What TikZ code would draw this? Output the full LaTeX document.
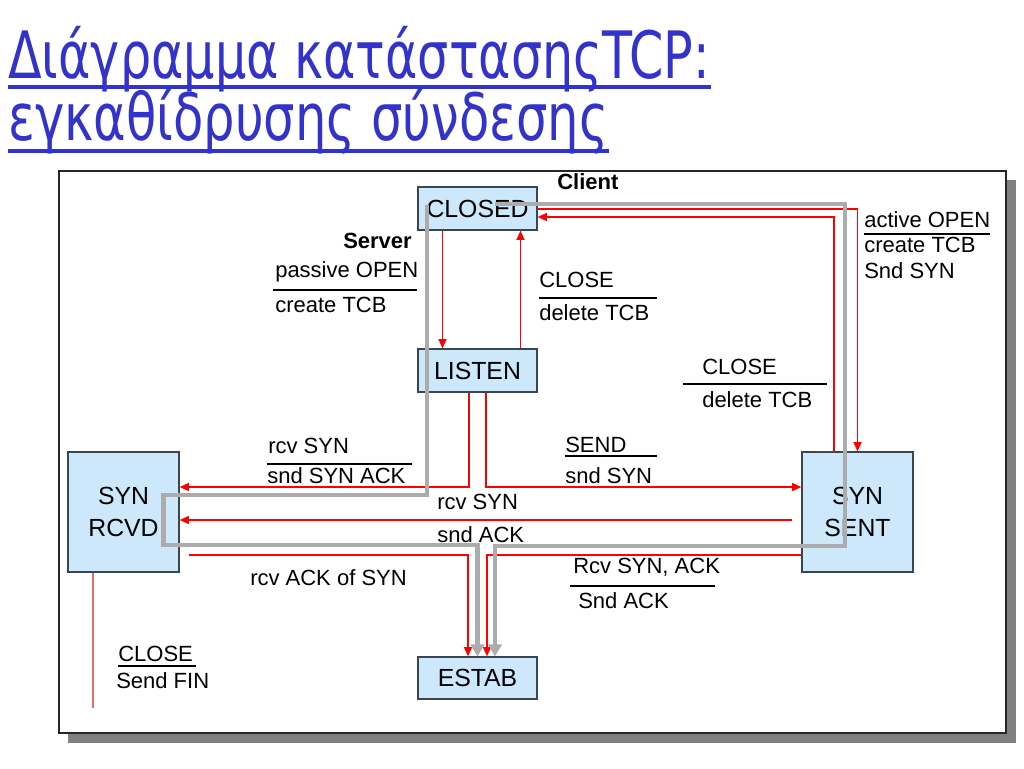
\documentclass[tikz,border=0pt]{standalone}
\usepackage{fontspec}
\setmainfont{Liberation Sans}
\newfontfamily\titlefont{DejaVu Sans}
\usetikzlibrary{arrows.meta,calc}
\definecolor{titleblue}{RGB}{51,51,204}
\definecolor{nodefill}{RGB}{204,232,250}
\definecolor{nodeborder}{RGB}{60,70,80}
\definecolor{pathgray}{RGB}{172,172,172}
\definecolor{shadowgray}{RGB}{128,128,128}
\definecolor{lightred}{RGB}{232,110,110}
\begin{document}
\begin{tikzpicture}[x=0.75pt,y=-0.75pt,
  state/.style={draw=nodeborder,line width=0.9pt,fill=nodefill,inner sep=0pt,font=\fontsize{18.6}{24}\selectfont,align=center},
  lbl/.style={anchor=base west,inner sep=0pt,font=\fontsize{16.5}{20}\selectfont},
  boldlbl/.style={lbl,font=\fontsize{16.5}{20}\selectfont\bfseries},
  bar/.style={black,line width=1pt},
  tr/.style={red,line width=1.1pt,-{Triangle[length=7pt,width=6pt]}},
  gp/.style={pathgray,line width=3.2pt,-{Triangle[length=9pt,width=10pt]}},
  titletext/.style={anchor=base west,inner sep=0pt,text=titleblue,font=\titlefont\fontsize{49}{58}\selectfont},
  uline/.style={titleblue,line width=3pt}
]
\useasboundingbox (0,0) rectangle (1024,768);
\fill[white] (0,0) rectangle (1024,768);

% title
\node[titletext] (t1) at (8,78) {\resizebox{526.5pt}{\height}{Διάγραμμα κατάστασηςTCP:}};
\node[titletext] (t2) at (8,140) {\resizebox{450pt}{\height}{εγκαθίδρυσης σύνδεσης}};
\draw[uline] ($(t1.base west)+(0,9)$) -- ($(t1.base east)+(0,9)$);
\draw[uline] ($(t2.base west)+(0,11)$) -- ($(t2.base east)+(0,11)$);

% frame with shadow
\fill[shadowgray] (68,180) rectangle (1016,743);
\draw[fill=white,line width=1.4pt,draw=black!85] (59,171) rectangle (1006,733);

% states
\node[state,minimum width={119*0.75pt},minimum height={43*0.75pt}] (closed) at (477.5,208.5) {CLOSED};
\node[state,minimum width={119*0.75pt},minimum height={43*0.75pt}] (listen) at (477.5,370.5) {LISTEN};
\node[state,minimum width={119*0.75pt},minimum height={42*0.75pt}] (estab) at (477.5,678) {ESTAB};
\node[state,minimum width={111*0.75pt},minimum height={120*0.75pt}] (synrcvd) at (123.5,512) {SYN\\RCVD};
\node[state,minimum width={111*0.75pt},minimum height={120*0.75pt}] (synsent) at (857.5,512) {SYN\\SENT};

% red transitions
\draw[tr] ($(closed.south)+(-35,0)$) -- ($(listen.north)+(-35,0)$);
\draw[tr] ($(listen.north)+(43,0)$) -- ($(closed.south)+(43,0)$);
\draw[tr] ($(listen.south)+(-8.5,0)$) |- ($(synrcvd.east)+(0,-25)$);
\draw[tr] ($(listen.south)+(8.5,0)$) |- ($(synsent.west)+(0,-25)$);
\draw[tr] ($(synsent.west)+(-9,8)$) -- ($(synrcvd.east)+(0,8)$);
\draw[tr] ($(synrcvd.east)+(9,43)$) -| ($(estab.north)+(-9.5,0)$);
\draw[tr] ($(synsent.west)+(0,43)$) -| ($(estab.north)+(9.5,0)$);
\draw[tr] ($(closed.east)+(0,0.5)$) -| (synsent.north);
\draw[tr] ($(synsent.north)+(-42.5,0)$) -- ($(synsent.north)+(-23.5,0)$) |- ($(closed.east)+(0,8.5)$);
\draw[lightred,line width=1pt] ($(synrcvd.south)+(-30.5,0)$) coordinate (finstart) -- ($(finstart)+(0,135)$) coordinate (finend);

% gray paths
\coordinate (gA) at ($(closed.center)+(-50.5,-3.5)$);
\coordinate (gB) at ($(closed.center)+(17.5,-4.5)$);
\draw[gp] (gA) |- ($(synrcvd.east)+(-16,-17)$) -- ($(synrcvd.east)+(-16,33)$) -| ($(estab.north)+(0,0)$);
\draw[gp] (gB) -| ($(synsent.center)+(-12.5,34)$) -| ($(estab.north)+(17.5,0)$);

% labels
\node[boldlbl] (client) at (557,189) {Client};
\node[boldlbl] (server) at (343,248) {Server};
\node[lbl] (po) at (275,277) {passive OPEN};
\draw[bar] (273,290) -- (417,290);
\node[lbl] (ctcb1) at (275,312) {create TCB};
\node[lbl] (cl1) at (539,287) {CLOSE};
\draw[bar] (539,298) -- (657,298);
\node[lbl] (dt1) at (539,320) {delete TCB};
\node[lbl] (ao) at (864,227) {active OPEN};
\draw[bar] (864,234) -- (990,234);
\node[lbl] (ctcb2) at (864,252) {create TCB};
\node[lbl] (ssyn) at (864,278) {Snd SYN};
\node[lbl] (cl2) at (702,374) {CLOSE};
\draw[bar] (683,384) -- (827,384);
\node[lbl] (dt2) at (702,407) {delete TCB};
\node[lbl] (rs1) at (268,453) {rcv SYN};
\draw[bar] (267,464) -- (412,464);
\node[lbl] (ssa) at (267,483) {snd SYN ACK};
\node[lbl] (rs2) at (437,509) {rcv SYN};
\node[lbl] (sack) at (437,542) {snd ACK};
\node[lbl] (send) at (565,452) {SEND};
\draw[bar] (565,456) -- (657,456);
\node[lbl] (sndsyn) at (565,483) {snd SYN};
\node[lbl] (rsa) at (573,573) {Rcv SYN, ACK};
\draw[bar] (570,586) -- (715,586);
\node[lbl] (sndack) at (578,608) {Snd ACK};
\node[lbl] (raos) at (250,585) {rcv ACK of SYN};
\node[lbl] (cl3) at (118,661) {CLOSE};
\draw[bar] (118,666) -- (196,666);
\node[lbl] (sfin) at (116,688) {Send FIN};
\end{tikzpicture}
\end{document}
